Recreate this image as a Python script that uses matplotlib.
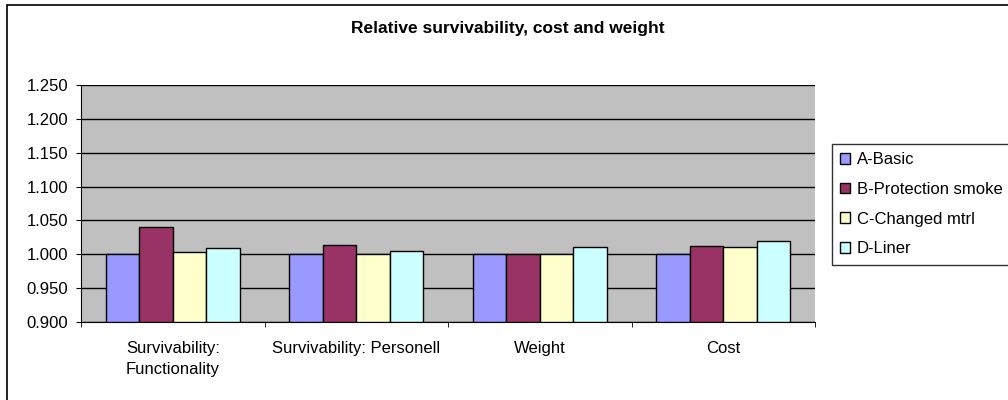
import numpy as np
import matplotlib.pyplot as plt
from matplotlib.patches import Rectangle

plt.rcParams['font.family'] = ['Liberation Sans', 'DejaVu Sans']

# Data
categories = ['Survivability:\nFunctionality', 'Survivability: Personell', 'Weight', 'Cost']
series_names = ['A-Basic', 'B-Protection smoke', 'C-Changed mtrl', 'D-Liner']
a_basic = [1.000, 1.000, 1.000, 1.000]
b_smoke = [1.041, 1.013, 1.000, 1.012]
c_mtrl = [1.004, 1.000, 1.000, 1.011]
d_liner = [1.009, 1.005, 1.011, 1.020]
colors = ['#9999FF', '#993366', '#FFFFCC', '#CCFFFF']
yticks = [0.900, 0.950, 1.000, 1.050, 1.100, 1.150, 1.200, 1.250]

W, H = 1008, 400
fig = plt.figure(figsize=(W / 100, H / 100), dpi=100)

# outer chart frame
fig.patches.append(Rectangle((7 / W, -0.1), 1.2, 1 - 5 / H + 0.1, transform=fig.transFigure,
                             fill=False, edgecolor='black', linewidth=1.2))

ax = fig.add_axes([81 / W, 1 - 322 / H, 734 / W, 237 / H])
ax.set_facecolor('#C0C0C0')

x = np.arange(len(categories))
bw = 0.182
all_series = [a_basic, b_smoke, c_mtrl, d_liner]
base = 0.9
for i, (vals, name, col) in enumerate(zip(all_series, series_names, colors)):
    offs = (i - 1.5) * bw
    ax.bar(x + offs, np.array(vals) - base, bw, bottom=base, color=col,
           edgecolor='black', linewidth=1.0, label=name, zorder=3)

fs = 12
ax.set_xlim(-0.5, len(categories) - 0.5)
ax.set_ylim(0.9, 1.25)
ax.set_yticks(yticks)
ax.set_yticklabels([f'{v:.3f}' for v in yticks], fontsize=fs)
ax.yaxis.grid(True, color='black', linewidth=1.0, zorder=0)
ax.set_axisbelow(True)

ax.set_xticks(x)
ax.set_xticklabels(categories, fontsize=fs, linespacing=1.5)
ax.set_xticks(np.arange(len(categories) + 1) - 0.5, minor=True)
ax.tick_params(axis='x', which='major', length=0, pad=13.5)
ax.tick_params(axis='x', which='minor', length=3.6, direction='out')
ax.tick_params(axis='y', length=3.6, direction='out', pad=5.5)

for s in ['top', 'right']:
    ax.spines[s].set_visible(False)
ax.spines['left'].set_color('black')
ax.spines['bottom'].set_color('black')

fig.text(508 / W, 1 - 29 / H, 'Relative survivability, cost and weight',
         ha='center', va='center', fontsize=12.5, fontweight='bold')

leg = fig.legend(loc='upper left', bbox_to_anchor=(832 / W, 1 - 144 / H),
                 fontsize=fs, frameon=True, fancybox=False, shadow=False,
                 handlelength=0.6, handleheight=0.6, handletextpad=0.4,
                 labelspacing=0.88, borderpad=0.5, borderaxespad=0)
leg.get_frame().set_edgecolor('black')
leg.get_frame().set_linewidth(1.0)

plt.savefig('out.png', dpi=100)
